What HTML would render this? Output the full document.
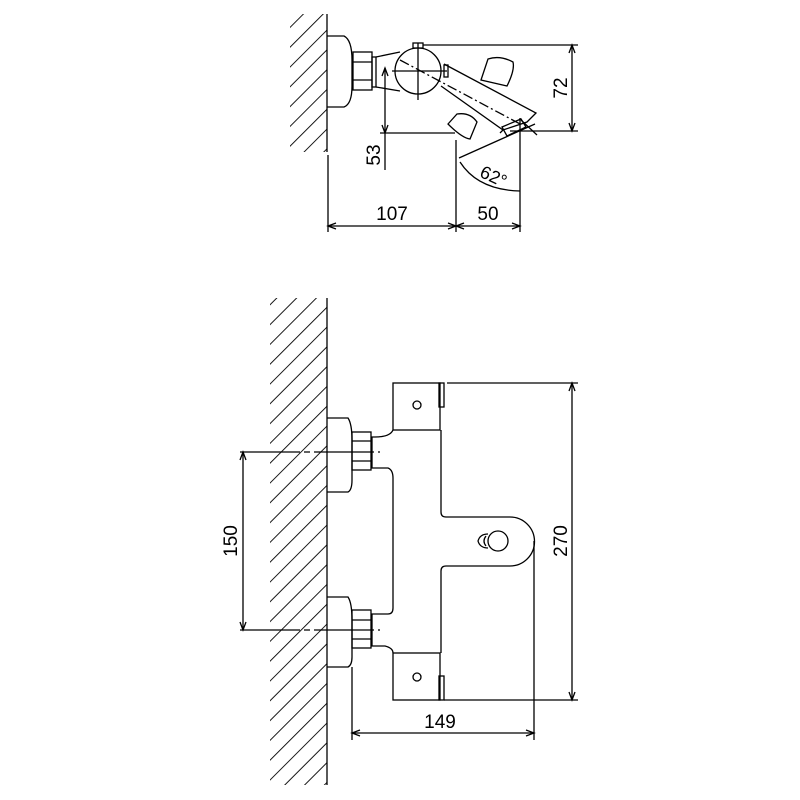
<!DOCTYPE html>
<html><head><style>body{margin:0;background:#fff}svg{display:block}</style></head><body>
<svg width="800" height="800" viewBox="0 0 800 800" xmlns="http://www.w3.org/2000/svg" font-family="Liberation Sans, sans-serif" fill="none" stroke="#000" stroke-width="1.3">
<defs>
<pattern id="h" width="14" height="14" patternUnits="userSpaceOnUse" patternTransform="rotate(45)">
<line x1="0" y1="0" x2="0" y2="14" stroke="#000" stroke-width="1.8"/>
</pattern>
</defs>
<!-- TOP VIEW -->
<rect x="290" y="14" width="37" height="138" fill="url(#h)" stroke="none"/>
<line x1="327" y1="14" x2="327" y2="152"/>
<path d="M327 36 H344 Q352 40 352 60 V86 Q352 104 344 107 H327"/>
<rect x="353" y="52" width="19" height="38"/>
<line x1="353" y1="62" x2="372" y2="62"/><line x1="353" y1="80" x2="372" y2="80"/>
<rect x="372" y="57" width="4" height="30"/>
<path d="M376 57 L400 52 M376 87 L400 91"/>
<circle cx="418" cy="71" r="23"/>
<rect x="413" y="43" width="10" height="5"/>
<line x1="418" y1="43" x2="418" y2="100"/><line x1="392" y1="71" x2="447" y2="71"/>
<rect x="444" y="65" width="4" height="12"/>
<path d="M444 64 L536 113 L527 122 L503 130 L500 133 M441 86 L503 130"/>
<path d="M400 60 L522 125" stroke-dasharray="10 3 2 3"/>
<path d="M448 124 L457 114 Q470 112 477 122 L470 139 Q462 138 448 124 Z"/>
<path d="M481 80 L488 59 Q500 55 513 62 Q515 70 507 86 Z"/>
<path d="M502 127 L521 119 L526 127 L507 136 Z"/>
<!-- 72 -->
<line x1="423" y1="45" x2="578" y2="45"/><line x1="510" y1="131" x2="578" y2="131"/>
<line x1="572" y1="45" x2="572" y2="131"/>
<path d="M569 53 L572 45 L575 53 M569 123 L572 131 L575 123" />
<text x="568" y="88" font-size="19" fill="#000" stroke="none" text-anchor="middle" transform="rotate(-90 568 88)" dy="-1">72</text>
<!-- 53 -->
<line x1="385" y1="68" x2="385" y2="170"/><line x1="380" y1="133" x2="455" y2="133"/>
<path d="M382 76 L385 68 L388 76 M382 125 L385 133 L388 125"/>
<text x="374" y="155" font-size="19" fill="#000" stroke="none" text-anchor="middle" transform="rotate(-90 374 155)" dy="6">53</text>
<!-- 62 -->
<line x1="459" y1="158" x2="535" y2="124"/>
<line x1="521" y1="120" x2="537" y2="135"/>
<path d="M460 162 Q478 190 520 191"/>
<text x="491" y="182" font-size="18" fill="#000" stroke="none" text-anchor="middle" transform="rotate(25 491 182)">62°</text>
<!-- 107 / 50 -->
<line x1="328" y1="155" x2="328" y2="232"/><line x1="456" y1="140" x2="456" y2="232"/><line x1="520" y1="118" x2="520" y2="232"/>
<line x1="328" y1="226" x2="520" y2="226"/>
<path d="M336 223 L328 226 L336 229 M448 223 L456 226 L448 229 M464 223 L456 226 L464 229 M512 223 L520 226 L512 229"/>
<text x="392" y="220" font-size="19" fill="#000" stroke="none" text-anchor="middle">107</text>
<text x="488" y="220" font-size="19" fill="#000" stroke="none" text-anchor="middle">50</text>
<!-- BOTTOM VIEW -->
<rect x="270" y="298" width="57" height="487" fill="url(#h)" stroke="none"/>
<line x1="327" y1="298" x2="327" y2="785"/>
<path d="M327 418 H348 Q352 424 352 440 V480 Q352 490 348 492 H327"/>
<path d="M327 597 H348 Q352 603 352 620 V657 Q352 665 348 667 H327"/>
<rect x="352" y="432" width="19" height="38"/><line x1="352" y1="441" x2="371" y2="441"/><line x1="352" y1="461" x2="371" y2="461"/>
<rect x="352" y="610" width="19" height="38"/><line x1="352" y1="620" x2="371" y2="620"/><line x1="352" y1="639" x2="371" y2="639"/>
<line x1="240" y1="452" x2="380" y2="452" stroke-dasharray="60 4 6 4"/>
<line x1="240" y1="630" x2="380" y2="630" stroke-dasharray="60 4 6 4"/>
<rect x="393" y="383" width="47" height="47"/><circle cx="417" cy="405" r="4"/><rect x="439" y="383" width="5" height="24"/>
<rect x="393" y="653" width="47" height="47"/><circle cx="417" cy="677" r="4"/><rect x="439" y="676" width="5" height="24"/>
<path d="M393 430 Q390 437 375 437 H372 V468 H388 Q393 470 393 478 V608 Q393 614 388 614 H372 V646 H385 Q393 648 393 653"/>
<path d="M441 430 V512 Q441 517 446 517 H510 A24 24 0 0 1 510 566 H446 Q441 566 441 571 V653"/>
<circle cx="498" cy="541" r="10"/>
<path d="M488 534 Q480 534 478 541 Q480 548 488 548"/><path d="M486 536 Q482 541 486 546"/>
<!-- 150 -->
<line x1="243" y1="452" x2="243" y2="630"/>
<path d="M240 460 L243 452 L246 460 M240 622 L243 630 L246 622"/>
<text x="231" y="541" font-size="19" fill="#000" stroke="none" text-anchor="middle" transform="rotate(-90 231 541)" dy="6">150</text>
<!-- 270 -->
<line x1="447" y1="383" x2="578" y2="383"/><line x1="444" y1="700" x2="578" y2="700"/>
<line x1="572" y1="383" x2="572" y2="700"/>
<path d="M569 391 L572 383 L575 391 M569 692 L572 700 L575 692"/>
<text x="561" y="541" font-size="19" fill="#000" stroke="none" text-anchor="middle" transform="rotate(-90 561 541)" dy="6">270</text>
<!-- 149 -->
<line x1="352" y1="667" x2="352" y2="740"/><line x1="534" y1="541" x2="534" y2="740"/>
<line x1="352" y1="733" x2="534" y2="733"/>
<path d="M360 730 L352 733 L360 736 M526 730 L534 733 L526 736"/>
<text x="440" y="728" font-size="19" fill="#000" stroke="none" text-anchor="middle">149</text>
</svg>
</body></html>
